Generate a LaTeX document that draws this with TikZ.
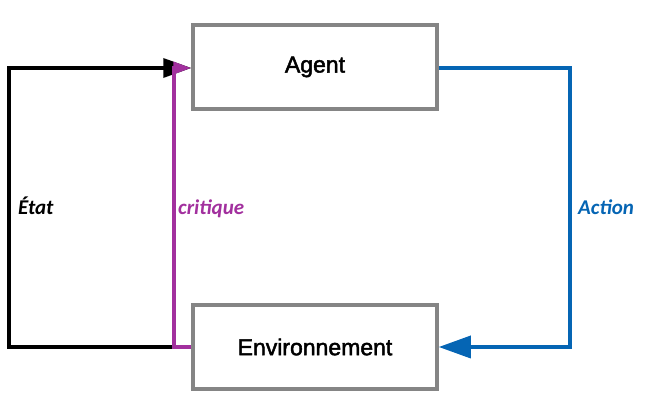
\documentclass[tikz,border=0pt]{standalone}
\usepackage{fontspec}
\setmainfont{Liberation Sans}
\newfontfamily\boxfont{Liberation Sans}[FakeBold=2]
\newfontfamily\lblfont{Carlito}
\usetikzlibrary{arrows.meta}
\definecolor{bordergray}{HTML}{858585}
\definecolor{actblue}{HTML}{0565B4}
\definecolor{critmag}{HTML}{A2309E}
\begin{document}
\begin{tikzpicture}[x=1pt,y=-1pt,
  block/.style={draw=bordergray,line width=3.5pt,minimum width=244pt,minimum height=84pt,inner sep=0pt,fill=white,font=\boxfont\fontsize{23}{23}\selectfont},
  flow/.style={line width=3.5pt,line join=miter},
  lbl/.style={anchor=base west,inner sep=0pt,font=\lblfont\bfseries\itshape\fontsize{21}{21}\selectfont}]
\useasboundingbox (0,0) rectangle (654,411);
\node[block] (agent) at (315,67) {Agent};
\node[block] (env) at (315,347) {Environnement};
\coordinate (bl) at (9,347);
\coordinate (tl) at (9,68);
\coordinate (mb) at (174,347);
\coordinate (mt) at (174,68);
\coordinate (rt) at (570,68);
\coordinate (rb) at (570,347);
\draw[flow,black,-{Triangle[length=28pt,width=19pt]}] (mb) -- (bl) -- (tl) -- (agent.west |- tl);
\draw[flow,critmag,-{Triangle[length=18pt,width=12pt]}] (env.west) -- (mb) -- (mt) -- (agent.west |- mt);
\draw[flow,actblue,-{Triangle[length=32pt,width=22pt]}] (agent.east |- rt) -- (rt) -- (rb) -- (env.east);
\node[lbl,text=black] (etat) at (18,215) {État};
\node[lbl,text=critmag] (crit) at (178,215) {critique};
\node[lbl,text=actblue] (act) at (578,215) {Action};
\end{tikzpicture}
\end{document}
